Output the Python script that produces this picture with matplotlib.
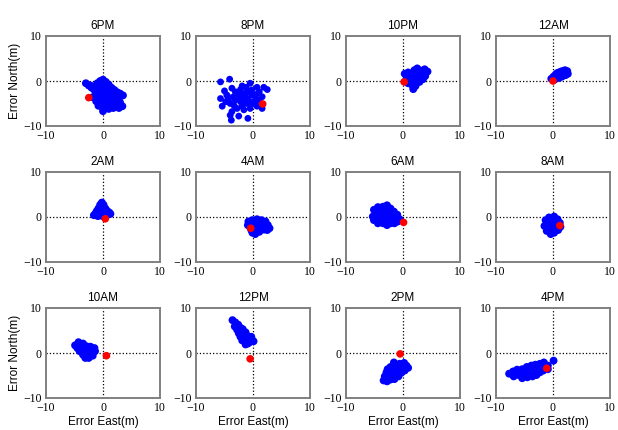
import numpy as np
import matplotlib.pyplot as plt

TITLES = ["6PM", "8PM", "10PM", "12AM",
          "2AM", "4AM", "6AM", "8AM",
          "10AM", "12PM", "2PM", "4PM"]

# east / north error (m), one cloud per time slot
pts_6pm = [(-3.0, -0.5), (-2.5, -1.0), (-2.0, -1.5), (-1.5, -1.2), (-1.0, -0.5), (0.0, 0.3),
           (0.5, -0.2), (-0.5, -1.5), (0.3, -1.0), (1.0, -0.8), (1.5, -1.5), (2.0, -2.0),
           (2.5, -2.5), (3.0, -2.8), (3.5, -3.2), (-1.2, -2.5), (-0.5, -2.8), (0.5, -2.5),
           (1.2, -3.0), (2.0, -3.5), (2.8, -3.8), (-1.0, -3.5), (-1.8, -3.6), (0.0, -3.8),
           (1.0, -4.2), (2.0, -4.5), (3.0, -4.8), (3.4, -5.6), (2.5, -5.5), (1.5, -5.2),
           (0.5, -5.0), (-0.5, -4.8), (-1.2, -4.5), (0.0, -6.0), (1.0, -6.2), (0.0, -6.7),
           (0.5, -5.8), (-0.8, -5.5), (1.8, -6.0), (2.8, -6.0), (-0.5, 0.0), (0.8, -1.8),
           (-0.2, -2.0), (1.6, -2.6), (0.6, -3.4), (-0.6, -3.9), (1.6, -3.9), (2.5, -4.2),
           (0.9, -4.9), (-0.2, -4.4), (2.2, -5.0), (-1.5, -2.0), (-2.2, -1.0)]
pts_8pm = [(-5.7, -0.2), (-4.1, 0.4), (-3.7, -1.6), (-5.0, -2.2), (-5.7, -3.9), (-4.4, -3.5),
           (-3.1, -2.4), (-2.2, -1.9), (-1.9, -1.1), (-1.2, -1.4), (-0.5, -0.5), (0.7, -1.4),
           (1.9, -1.4), (2.5, -1.9), (1.1, -2.4), (1.6, -3.5), (-5.4, -5.6), (-4.8, -4.6),
           (-4.0, -5.0), (-3.1, -4.2), (-2.5, -3.6), (-1.3, -3.5), (-0.8, -4.2), (-0.2, -3.1),
           (-1.9, -5.6), (-2.8, -6.1), (-3.7, -6.8), (-4.0, -7.6), (-2.5, -7.8), (-3.8, -8.7),
           (-0.9, -8.3), (0.7, -5.6), (1.6, -6.1), (-1.6, -6.4), (-0.5, -6.1), (0.4, -4.2),
           (-4.6, -3.1), (-3.4, -3.5), (-2.2, -4.6), (-1.1, -5.0), (0.1, -5.0), (1.0, -4.2),
           (-0.2, -2.0), (-1.3, -2.7), (-2.8, -3.1), (-0.8, -2.4), (-3.3, -5.5), (-2.0, -2.8),
           (-0.4, -4.8), (-1.7, -4.1), (0.5, -3.0), (-4.3, -4.2)]
pts_10pm = [(0.3, 1.6), (0.9, 1.9), (1.5, 1.3), (2.0, 2.4), (2.5, 2.8), (3.1, 2.3),
            (3.8, 2.6), (4.3, 2.1), (3.9, 1.1), (3.2, 0.8), (2.6, 0.4), (1.9, 0.2),
            (1.2, 0.4), (0.6, 0.4), (0.9, -0.5), (1.6, -0.9), (1.8, -1.8), (2.2, -1.1),
            (2.9, -0.2), (3.5, 0.4), (2.3, 1.3), (2.9, 1.6), (1.5, 0.8), (3.4, 1.6),
            (2.0, -0.4), (1.1, 1.1), (2.5, 2.0)]
pts_12am = [(-0.3, 0.5), (0.1, 1.0), (0.5, 1.5), (0.8, 1.8), (1.2, 2.0), (1.6, 2.2),
            (2.1, 2.4), (2.5, 2.2), (2.6, 1.6), (2.2, 1.3), (1.6, 1.0), (1.1, 0.7),
            (0.5, 0.5), (1.4, 1.5), (1.9, 1.8), (0.2, 0.3), (0.9, 1.2)]
pts_2am = [(-0.2, 3.2), (-0.5, 2.7), (0.1, 2.7), (-0.8, 1.9), (0.4, 1.9), (-0.2, 1.9),
           (-1.1, 1.3), (0.7, 1.4), (-0.2, 1.2), (-1.3, 0.8), (-0.6, 0.7), (0.2, 0.8),
           (1.1, 1.0), (-1.6, 0.4), (-0.9, 0.2), (-0.1, 0.2), (0.7, 0.4), (1.3, 0.7)]
pts_4am = [(-0.8, -1.0), (-0.1, -0.7), (0.7, -0.5), (1.5, -0.7), (2.2, -1.0), (2.6, -1.8),
           (2.9, -2.5), (2.5, -2.9), (1.9, -2.8), (1.1, -3.3), (0.4, -3.8), (-0.1, -3.5),
           (-0.9, -1.8), (-0.5, -2.3), (0.4, -1.8), (1.3, -1.8), (2.0, -2.0), (0.7, -2.8),
           (-0.2, -1.4), (1.3, -2.6), (0.4, -2.5), (-0.3, -2.9)]
pts_6am = [(-5.1, 1.6), (-4.4, 2.2), (-3.5, 2.3), (-2.8, 2.6), (-2.2, 1.9), (-1.6, 1.2),
           (-1.0, 0.5), (-0.6, -0.5), (-0.9, -1.0), (-1.5, -1.4), (-2.2, -1.4), (-2.8, -1.8),
           (-3.5, -1.4), (-4.4, -1.4), (-5.1, -0.7), (-5.3, 0.1), (-4.5, 0.5), (-3.8, 1.0),
           (-2.9, 1.2), (-2.1, 0.1), (-3.2, -0.3), (-4.1, -0.5), (-2.7, -0.7), (-1.5, -0.3),
           (-4.7, 1.2), (-3.6, 1.7), (-2.5, 0.6), (-1.3, 0.5), (-3.6, -0.9), (-4.7, -0.1),
           (-2.0, -0.8), (-3.0, 0.3), (-4.1, 0.3)]
pts_8am = [(-1.3, -0.7), (-0.7, -0.1), (0.2, 0.1), (0.8, -0.5), (1.2, -1.3), (1.3, -2.2),
           (0.9, -2.9), (0.2, -3.5), (-0.4, -3.8), (-1.1, -3.1), (-1.5, -2.0), (-0.7, -1.4),
           (0.1, -1.4), (0.6, -1.8), (-0.5, -2.5), (0.2, -2.5), (-0.9, -0.8), (-0.1, -0.7),
           (-1.0, -2.3), (0.6, -1.0)]
pts_10am = [(-4.9, 1.7), (-4.3, 2.4), (-3.5, 2.1), (-2.9, 1.5), (-2.2, 1.4), (-1.5, 1.1),
            (-1.4, 0.4), (-1.8, -0.6), (-2.5, -1.1), (-3.1, -1.1), (-3.5, -0.4), (-4.1, 0.4),
            (-4.5, 1.1), (-3.2, 0.6), (-2.4, 0.2), (-3.8, 1.1), (-2.8, -0.2), (-1.9, 0.6),
            (-4.0, 1.8), (-2.6, 0.9)]
pts_12pm = [(-3.6, 7.3), (-3.1, 6.8), (-2.6, 6.3), (-3.2, 5.9), (-2.8, 5.2), (-2.2, 5.6),
            (-1.8, 5.3), (-2.5, 4.4), (-1.9, 4.3), (-1.3, 4.6), (-1.1, 3.9), (-1.6, 3.6),
            (-2.2, 3.6), (-0.8, 3.3), (-0.2, 3.0), (0.1, 2.6), (-0.6, 2.4), (-1.3, 1.9),
            (-0.9, 2.1), (-0.3, 3.6), (-1.2, 3.0), (-1.9, 2.8), (-2.5, 5.2), (-2.0, 4.9),
            (-1.5, 4.2), (-2.7, 5.7)]
pts_2pm = [(-3.4, -6.1), (-3.2, -5.2), (-2.9, -4.3), (-2.7, -3.6), (-2.2, -3.1), (-1.6, -2.1),
           (-1.2, -2.6), (-0.6, -2.4), (0.2, -2.2), (0.6, -2.8), (0.9, -3.3), (0.3, -3.9),
           (-0.3, -4.4), (-0.8, -5.2), (-1.5, -5.8), (-2.2, -5.9), (-2.7, -5.6), (-1.8, -4.8),
           (-1.2, -4.1), (-2.1, -4.1), (-2.4, -4.8), (-0.6, -3.3), (0.0, -3.1), (-1.5, -3.3),
           (-2.8, -6.3), (-0.9, -3.7), (-2.0, -3.6), (-1.3, -5.0), (-0.3, -3.6), (-2.9, -5.0)]
pts_4pm = [(-7.7, -4.6), (-7.0, -4.1), (-6.9, -5.2), (-6.3, -3.7), (-6.0, -4.9), (-5.4, -3.6),
           (-5.1, -4.6), (-5.4, -5.6), (-4.6, -3.1), (-4.2, -4.3), (-4.5, -5.4), (-3.8, -2.8),
           (-3.5, -3.9), (-3.6, -5.2), (-3.1, -2.6), (-2.8, -3.6), (-2.9, -4.9), (-2.3, -2.4),
           (-2.1, -3.4), (-2.3, -4.3), (-1.6, -2.1), (-1.3, -3.1), (-0.9, -2.8), (-1.7, -3.9),
           (-0.9, -3.6), (-4.8, -3.9), (-6.2, -4.5), (-3.9, -4.6), (0.1, -1.7), (-5.8, -4.1),
           (-4.4, -3.7), (-3.2, -3.2), (-2.6, -2.9), (-5.0, -5.0), (-3.3, -4.4), (-1.9, -2.7)]

CLOUDS = [pts_6pm, pts_8pm, pts_10pm, pts_12am,
          pts_2am, pts_4am, pts_6am, pts_8am,
          pts_10am, pts_12pm, pts_2pm, pts_4pm]

# red reference point per slot
REF_E = [-2.5, 1.7, 0.2, 0.0, 0.4, -0.4, 0.1, 1.2, 0.6, -0.5, -0.5, -1.1]
REF_N = [-3.7, -5.1, -0.2, 0.0, -0.4, -2.5, -1.2, -1.9, -0.6, -1.3, -0.2, -3.4]

W, H = 618, 430
fig = plt.figure(figsize=(W / 100, H / 100), dpi=100)

col_left = [46, 196, 346, 496]
row_bottom = [126, 262, 398]
aw, ah = 114, 90

for i, title in enumerate(TITLES):
    r, c = divmod(i, 4)
    ax = fig.add_axes([col_left[c] / W, 1 - row_bottom[r] / H, aw / W, ah / H])
    ax.axhline(0, color="k", ls=":", lw=0.9, zorder=1)
    ax.axvline(0, color="k", ls=":", lw=0.9, zorder=1)
    e, n = np.array(CLOUDS[i]).T
    size = 24 if i == 1 else 32
    ax.scatter(e, n, s=size, color="#0000ff", edgecolors="none", zorder=2)
    ax.scatter([REF_E[i]], [REF_N[i]], s=30, color="#ff0000", edgecolors="none", zorder=3)
    ax.set_xlim(-10, 10)
    ax.set_ylim(-10, 10)
    ax.set_xticks([-10, 0, 10])
    ax.set_yticks([-10, 0, 10])
    ax.tick_params(length=0, labelsize=8.5)
    ax.tick_params(axis="x", pad=3)
    ax.tick_params(axis="y", pad=3)
    for lab in ax.get_xticklabels() + ax.get_yticklabels():
        lab.set_fontfamily("Liberation Serif")
    for spine in ax.spines.values():
        spine.set_color("#808080")
        spine.set_linewidth(1.4)
    ax.set_title(title, fontsize=8.5, family="Liberation Sans", pad=5)
    if c == 0 and r != 1:
        ax.set_ylabel("Error North(m)", fontsize=8.5, family="Liberation Sans", labelpad=2)
    if r == 2:
        ax.set_xlabel("Error East(m)", fontsize=8.5, family="Liberation Sans", labelpad=1)

fig.savefig("out.png", dpi=100)
